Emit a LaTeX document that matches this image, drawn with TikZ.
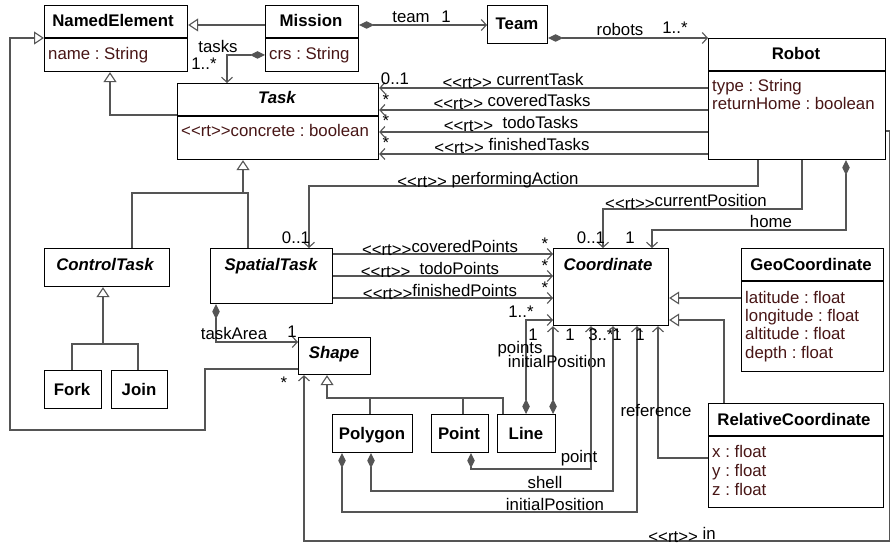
\documentclass[tikz,border=0pt]{standalone}
\usepackage{fontspec}
\setmainfont{Liberation Sans}
\usetikzlibrary{arrows.meta}
\definecolor{ln}{RGB}{85,85,85}
\definecolor{atc}{RGB}{72,22,22}
\newcommand\rtst{\raisebox{-3pt}{<{}<rt>{}>}}
\frenchspacing
\begin{document}
\begin{tikzpicture}[x=1pt,y=-1pt,
 cls/.style={draw=black,line width=1.2pt,fill=white,anchor=north west,inner sep=0pt},
 txt/.style={inner sep=0pt,text height=12pt,text depth=0pt},
 ttl/.style={txt,font=\fontsize{16.8}{20}\selectfont\bfseries},
 itl/.style={txt,font=\fontsize{16.8}{20}\selectfont\bfseries\itshape},
 att/.style={txt,font=\fontsize{16.8}{20}\selectfont,text=atc,anchor=west},
 lbl/.style={txt,font=\fontsize{16.8}{20}\selectfont},
 dv/.style={draw=black,line width=1.2pt},
 con/.style={draw=ln,line width=1.1pt},
 asc/.style={con,-{Straight Barb[length=5pt,width=11pt]}},
 cmp/.style={con,{Diamond[length=15pt,width=7.5pt]}-{Straight Barb[length=5pt,width=11pt]}},
 gen/.style={con,-{Triangle[length=10pt,width=13pt,fill=white]}},
]
\useasboundingbox (0,0) rectangle (891,545);
\fill[white] (0,0) rectangle (891,545);

% ---------- class boxes ----------
\node[cls,minimum width=143pt,minimum height=66pt] (ne) at (44,5) {};
\draw[dv] (44,38) -- (187,38);
\node[ttl] (ne-t) at (113,21) {NamedElement};
\node[att] (ne-a) at (48,54) {name : String};

\node[cls,minimum width=93pt,minimum height=66pt] (mission) at (265,5) {};
\draw[dv] (265,38) -- (358,38);
\node[ttl] (mission-t) at (311,21) {Mission};
\node[att] (mission-a) at (269,54) {crs : String};

\node[cls,minimum width=60pt,minimum height=38pt] (team) at (487,5) {};
\node[ttl] (team-t) at (517,24) {Team};

\node[cls,minimum width=177pt,minimum height=121pt] (robot) at (708,38) {};
\draw[dv] (708,71) -- (885,71);
\node[ttl] (robot-t) at (796,54) {Robot};
\node[att] (robot-a1) at (712,86) {type : String};
\node[att] (robot-a2) at (712,104) {returnHome : boolean};

\node[cls,minimum width=201pt,minimum height=76pt] (task) at (177,83) {};
\draw[dv] (177,116) -- (378,116);
\node[itl] (task-t) at (277,98) {Task};
\node[att] (task-a) at (181,131) {<{}<rt>{}>concrete : boolean};

\node[cls,minimum width=125pt,minimum height=38pt] (ctask) at (44,248) {};
\node[itl] (ctask-t) at (105,264) {ControlTask};

\node[cls,minimum width=122pt,minimum height=55pt] (stask) at (210,248) {};
\node[itl] (stask-t) at (271,264) {SpatialTask};

\node[cls,minimum width=57pt,minimum height=38pt] (fork) at (44,370) {};
\node[ttl] (fork-t) at (72,389) {Fork};
\node[cls,minimum width=56pt,minimum height=38pt] (join) at (111,370) {};
\node[ttl] (join-t) at (139,389) {Join};

\node[cls,minimum width=72pt,minimum height=37pt] (shape) at (298,337) {};
\node[itl] (shape-t) at (334,352) {Shape};

\node[cls,minimum width=115pt,minimum height=77pt] (coord) at (553,248) {};
\node[itl] (coord-t) at (608,264) {Coordinate};

\node[cls,minimum width=142pt,minimum height=123pt] (geo) at (741,248) {};
\draw[dv] (741,281) -- (883,281);
\node[ttl] (geo-t) at (811,264) {GeoCoordinate};
\node[att] (geo-a1) at (745,297) {latitude : float};
\node[att] (geo-a2) at (745,315) {longitude : float};
\node[att] (geo-a3) at (745,333) {altitude : float};
\node[att] (geo-a4) at (745,352) {depth : float};

\node[cls,minimum width=175pt,minimum height=104pt] (rel) at (708,403) {};
\draw[dv] (708,436) -- (883,436);
\node[ttl] (rel-t) at (794,419) {RelativeCoordinate};
\node[att] (rel-a1) at (712,451) {x : float};
\node[att] (rel-a2) at (712,470) {y : float};
\node[att] (rel-a3) at (712,489) {z : float};

\node[cls,minimum width=80pt,minimum height=38pt] (polygon) at (332,414) {};
\node[ttl] (polygon-t) at (372,433) {Polygon};
\node[cls,minimum width=57pt,minimum height=38pt] (npoint) at (431,414) {};
\node[ttl] (npoint-t) at (459,433) {Point};
\node[cls,minimum width=58pt,minimum height=38pt] (nline) at (497,414) {};
\node[ttl] (nline-t) at (526,433) {Line};

% ---------- generalizations ----------
\draw[gen] (mission.west |- 0,25) -- (ne.east |- 0,25);
\draw[gen] (task.west |- 0,115) -- (110,115) -- (ne.south -| 110,0);
\draw[gen] (ctask.north -| 132,0) -- (132,193) -- (243,193) -- (task.south -| 243,0);
\draw[con] (stask.north -| 248,0) -- (248,193) -- (243,193);
\draw[gen] (fork.north -| 72,0) -- (72,344) -- (103,344) -- (ctask.south -| 103,0);
\draw[con] (join.north -| 138,0) -- (138,344) -- (103,344);
\draw[gen] (polygon.north -| 370,0) -- (370,398) -- (327,398) -- (shape.south -| 327,0);
\draw[con] (npoint.north -| 463,0) -- (463,398) -- (370,398);
\draw[con] (nline.north -| 503,0) -- (503,398) -- (463,398);
\draw[gen] (shape.west |- 0,369) -- (205,369) -- (205,430) -- (10,430) -- (10,38) -- (ne.west |- 0,38);
\draw[gen] (geo.west |- 0,298) -- (coord.east |- 0,298);
\draw[gen] (rel.north -| 724,0) -- (724,320) -- (coord.east |- 0,320);

% ---------- associations ----------
\draw[cmp] (mission.west |- 0,55) -- (227,55) -- (task.north -| 227,0);
\node[lbl] (l-tasks) at (218,47) {tasks};
\node[lbl] (l-tasksm) at (204,64) {1..*};

\draw[cmp] (mission.east |- 0,25) -- (team.west |- 0,25);
\node[lbl] (l-team) at (411,17) {team};
\node[lbl] (l-teamm) at (446,17) {1};

\draw[cmp] (team.east |- 0,38) -- (robot.north west);
\node[lbl] (l-robots) at (620,30) {robots};
\node[lbl] (l-robotsm) at (675,28) {1..*};

\draw[asc] (robot.west |- 0,88) -- (task.east |- 0,88);
\draw[asc] (robot.west |- 0,110) -- (task.east |- 0,110);
\draw[asc] (robot.west |- 0,132) -- (task.east |- 0,132);
\draw[asc] (robot.west |- 0,154) -- (task.east |- 0,154);
\node[lbl] (l-ct) at (513,80) {\rtst{} currentTask};
\node[lbl] (l-cvt) at (512,101) {\rtst{} coveredTasks};
\node[lbl] (l-tt) at (511,123) {\rtst{}\ \ todoTasks};
\node[lbl] (l-ft) at (512,145) {\rtst{} finishedTasks};
\node[lbl] (l-ctm) at (395,79) {0..1};
\node[lbl] (l-cvtm) at (386,100) {*};
\node[lbl] (l-ttm) at (386,121) {*};
\node[lbl] (l-ftm) at (386,143) {*};

\draw[asc] (robot.south -| 758,0) -- (758,186) -- (309,186) -- (stask.north -| 309,0);
\node[lbl] (l-pa) at (488,179) {\rtst{} performingAction};
\node[lbl] (l-pam) at (296,238) {0..1};

\draw[asc] (robot.south -| 802,0) -- (802,209) -- (603,209) -- (coord.north -| 603,0);
\node[lbl] (l-cp) at (686,201) {\rtst{}currentPosition};
\node[lbl] (l-cpm) at (591,238) {0..1};

\draw[cmp] (robot.south -| 846,0) -- (846,230) -- (652,230) -- (coord.north -| 652,0);
\node[lbl] (l-home) at (771,222) {home};
\node[lbl] (l-homem) at (630,238) {1};

\draw[asc] (stask.east |- 0,254) -- (coord.west |- 0,254);
\draw[asc] (stask.east |- 0,276) -- (coord.west |- 0,276);
\draw[asc] (stask.east |- 0,298) -- (coord.west |- 0,298);
\node[lbl] (l-cvp) at (440,247) {\rtst{}coveredPoints};
\node[lbl] (l-tp) at (430,268) {\rtst{}\ \ todoPoints};
\node[lbl] (l-fp) at (440,290) {\rtst{}finishedPoints};
\node[lbl] (l-cvpm) at (545,244) {*};
\node[lbl] (l-tpm) at (545,266) {*};
\node[lbl] (l-fpm) at (545,288) {*};

\draw[cmp] (nline.north -| 526,0) -- (526,320) -- (coord.west |- 0,320);
\node[lbl] (l-ptsm) at (521,311) {1..*};
\node[lbl] (l-pts1) at (533,334) {1};
\node[lbl] (l-pts) at (520,347) {points};
\draw[cmp] (nline.north -| 553,0) -- (coord.south west);
\node[lbl] (l-lip) at (557,361) {initialPosition};
\node[lbl] (l-lipm) at (570,334) {1};

\draw[cmp] (npoint.south -| 471,0) -- (471,469) -- (591,469) -- (coord.south -| 591,0);
\node[lbl] (l-point) at (579,456) {point};
\node[lbl] (l-pointm) at (601,334) {3..*};

\draw[cmp] (polygon.south -| 371,0) -- (371,491) -- (613,491) -- (coord.south -| 613,0);
\node[lbl] (l-shell) at (545,482) {shell};
\node[lbl] (l-shellm) at (617,334) {1};

\draw[cmp] (polygon.south -| 342,0) -- (342,512) -- (637,512) -- (coord.south -| 637,0);
\node[lbl] (l-pip) at (555,504) {initialPosition};
\node[lbl] (l-pipm) at (640,334) {1};

\draw[asc] (rel.west |- 0,458) -- (658,458) -- (coord.south -| 658,0);
\node[lbl] (l-ref) at (656,410) {reference};

\draw[cmp] (stask.south -| 216,0) -- (216,342) -- (shape.west |- 0,342);
\node[lbl] (l-ta) at (234,333) {taskArea};
\node[lbl] (l-tam) at (292,331) {1};

\draw[asc] (robot.east |- 0,131) -- (889.5,131) -- (889.5,541) -- (304,541) -- (shape.south -| 304,0);
\node[lbl] (l-in) at (682,533) {\rtst{} in};
\node[lbl] (l-inm) at (284,382) {*};
\end{tikzpicture}
\end{document}
